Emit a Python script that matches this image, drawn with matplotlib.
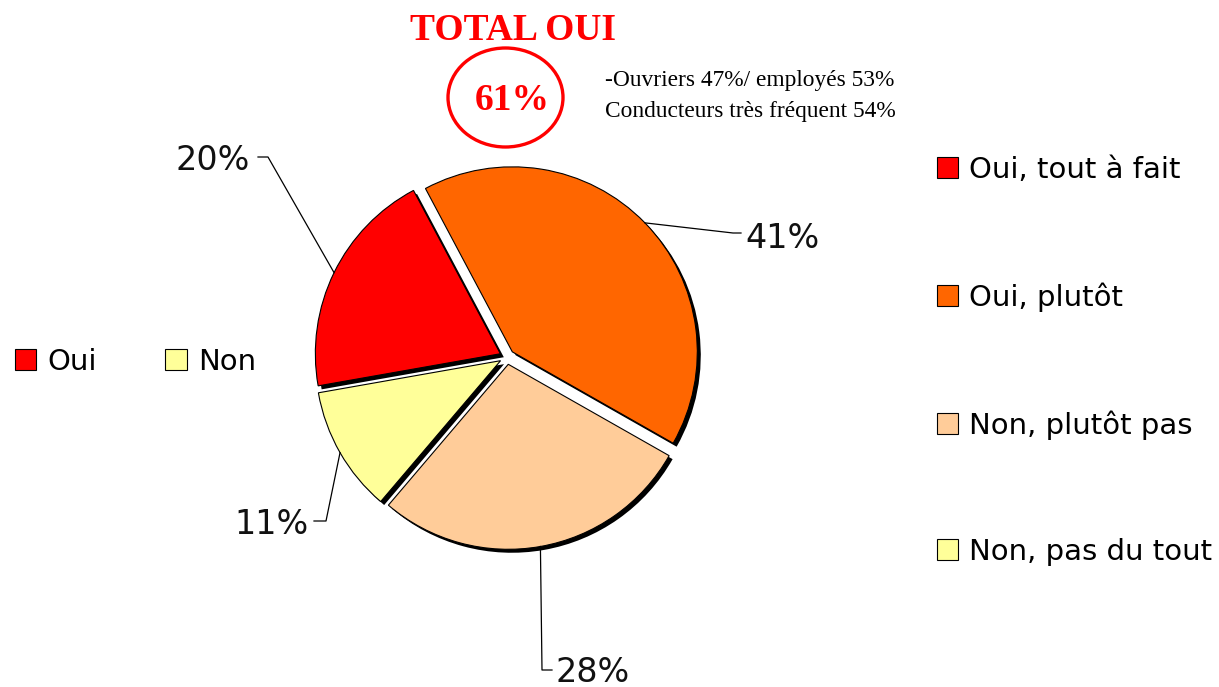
import matplotlib
matplotlib.use("Agg")
import matplotlib.pyplot as plt
import matplotlib.patheffects as pe
from matplotlib.patches import Ellipse, Patch
import numpy as np

# ---- data ----
categories = ["Oui, tout à fait", "Oui, plutôt", "Non, plutôt pas", "Non, pas du tout"]
values = [20, 41, 28, 11]
colors = ["#FF0000", "#FF6600", "#FFCC99", "#FFFF99"]
group_labels = ["Oui", "Non"]
group_colors = ["#FF0000", "#FFFF99"]
title_text = "TOTAL OUI"
total_text = "61%"
note_lines = ["-Ouvriers 47%/ employés 53%", "Conducteurs très fréquent 54%"]

W, H = 1219, 687
fig = plt.figure(figsize=(W / 100, H / 100), dpi=100)

# pie axes: centre at pixel (507, 357) from top
cx, cy, side = 507, 357, 444
LIM = 1.2
ax = fig.add_axes([(cx - side / 2) / W, (H - cy - side / 2) / H, side / W, side / H])

explode = [0.04] * len(values)
wedges, _ = ax.pie(values, colors=colors, startangle=190, counterclock=False,
                   explode=explode, radius=1.0,
                   wedgeprops=dict(edgecolor="black", linewidth=0.8))
ax.set_xlim(-LIM, LIM)
ax.set_ylim(-LIM, LIM)
ax.set_aspect("equal")
ax.axis("off")
for w in wedges:
    w.set_path_effects([pe.SimplePatchShadow(offset=(2.5, -2.5), shadow_rgbFace="black", alpha=1.0),
                        pe.Normal()])

scale = side / (2 * LIM)

def px2d(px, py):
    return (px - cx) / scale, (cy - py) / scale

# label layout: (elbow pixel, end pixel, text pixel, ha)
label_layout = [
    ((268, 157), (258, 157), (250, 160), "right"),
    ((733, 233), (741, 233), (745, 238), "left"),
    ((542, 670), (552, 670), (556, 672), "left"),
    ((326, 521), (314, 521), (309, 524), "right"),
]
for w, v, (elb, end, tp, ha) in zip(wedges, values, label_layout):
    ang = np.deg2rad((w.theta1 + w.theta2) / 2)
    ox, oy = w.center
    sx, sy = ox + w.r * np.cos(ang), oy + w.r * np.sin(ang)
    ex, ey = px2d(*elb)
    hx, hy = px2d(*end)
    ax.plot([sx, ex, hx], [sy, ey, hy], color="black", lw=0.9, clip_on=False)
    tx, ty = px2d(*tp)
    ax.text(tx, ty, f"{v}%", ha=ha, va="center", fontsize=24,
            family="DejaVu Sans", color="#111111", clip_on=False)

# right legend
leg = fig.legend(wedges, categories, loc="upper left", bbox_to_anchor=(937 / W, 1 - 156 / H),
                 frameon=False, handlelength=0.73, handleheight=0.73,
                 handletextpad=0.38, labelspacing=3.37, borderaxespad=0, borderpad=0,
                 prop=dict(family="DejaVu Sans", size=21))
for h in leg.legend_handles:
    h.set_path_effects([])
    h.set_linewidth(0.8)

# left legend
gh = [Patch(facecolor=c, edgecolor="black", linewidth=0.8) for c in group_colors]
leg2 = fig.legend(gh, group_labels, loc="center left", bbox_to_anchor=(15 / W, 1 - 362 / H),
                  frameon=False, ncol=2, handlelength=0.73, handleheight=0.73,
                  handletextpad=0.38, columnspacing=2.35, borderaxespad=0, borderpad=0,
                  prop=dict(family="DejaVu Sans", size=21))

# title and circle
fig.text(513 / W, 1 - 40 / H, title_text, ha="center", va="baseline", color="#FF0000",
         fontsize=27, fontweight="bold", family="Liberation Serif")
ell = Ellipse((505.5 / W, 1 - 97.5 / H), 115 / W, 99 / H, transform=fig.transFigure,
              facecolor="none", edgecolor="#FF0000", linewidth=2.4)
fig.add_artist(ell)
fig.text(512 / W, 1 - 110 / H, total_text, ha="center", va="baseline", color="#FF0000",
         fontsize=27, fontweight="bold", family="Liberation Serif")
fig.text(605 / W, 1 - 86 / H, note_lines[0], ha="left", va="baseline", color="black",
         fontsize=16.8, family="Liberation Serif")
fig.text(605 / W, 1 - 117 / H, note_lines[1], ha="left", va="baseline", color="black",
         fontsize=16.8, family="Liberation Serif")

fig.savefig("out.png", dpi=100, facecolor="white")
